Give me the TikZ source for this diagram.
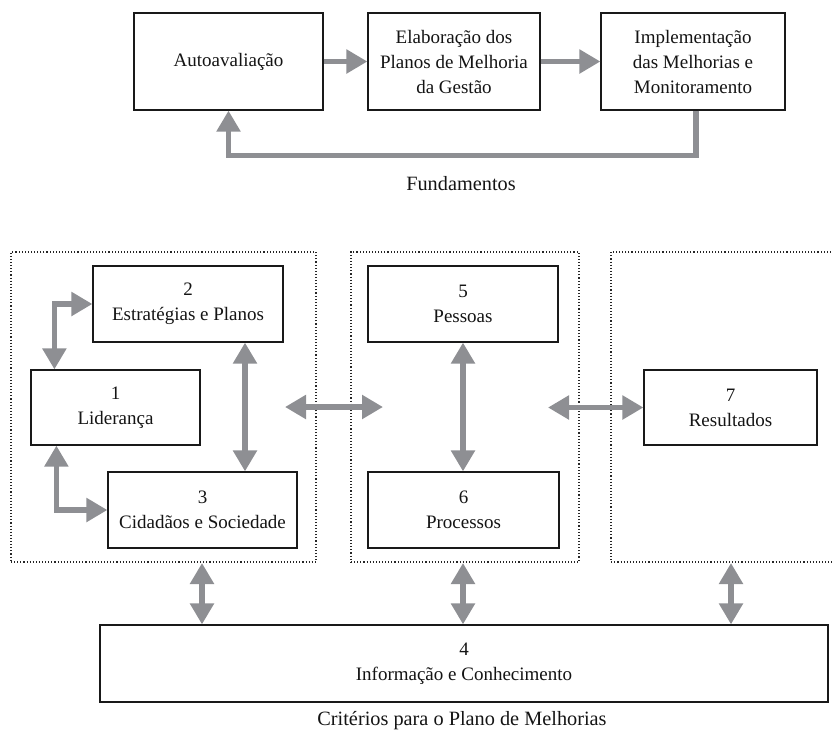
\documentclass[tikz,border=0pt]{standalone}
\usepackage{fontspec}
\setmainfont{Liberation Serif}
\usetikzlibrary{arrows.meta,calc}
\definecolor{agray}{RGB}{142,143,147}
\definecolor{txt}{RGB}{20,20,20}
\tikzset{
  box/.style={draw=black!90, line width=1.2pt, fill=white, align=center, text=txt,
    inner sep=0pt, font=\fontsize{19}{25}\selectfont},
  dotbox/.style={draw=black!85, line width=1.1pt, dash pattern=on 1.1pt off 2pt},
  garrow/.style={draw=agray, line width=5.5pt, -{Triangle[width=23pt,length=21pt]}},
  garrowb/.style={draw=agray, line width=5.5pt, {Triangle[width=23pt,length=21pt]}-{Triangle[width=23pt,length=21pt]}},
  lbl/.style={text=txt, font=\fontsize{20.3}{25}\selectfont, inner sep=0pt}
}
\begin{document}
\begin{tikzpicture}[x=1pt,y=-1pt]
\useasboundingbox (0,0) rectangle (832,734);
% top row
\node[box, minimum width=189pt, minimum height=97pt] (A1) at (228.5,61.5) {Autoavaliação};
\node[box, minimum width=172pt, minimum height=97pt] (A2) at (454,61.5) {Elaboração dos\\Planos de Melhoria\\da Gestão};
\node[box, minimum width=184pt, minimum height=97pt] (A3) at (693,61.5) {Implementação\\das Melhorias e\\Monitoramento};
\draw[garrow] (A1) -- (A2);
\draw[garrow] (A2) -- (A3);
\draw[garrow] ([xshift=3pt]A3.south) -- ++(0,45) -| (A1.south);
\node[lbl] (F) at (461,184) {Fundamentos};
% dotted groups
\node[dotbox, minimum width=305pt, minimum height=310pt, inner sep=0pt] (DA) at (163.5,407) {};
\node[dotbox, minimum width=228pt, minimum height=310pt, inner sep=0pt] (DB) at (465,407) {};
\coordinate (dc1) at (834,252);
\coordinate (dc2) at (611,252);
\coordinate (dc3) at (611,562);
\coordinate (dc4) at (834,562);
\draw[dotbox] (dc1) -- (dc2) -- (dc3) -- (dc4);
% boxes
\node[box, minimum width=190pt, minimum height=76pt] (B2) at (188,304) {2\\Estratégias e Planos};
\node[box, minimum width=169pt, minimum height=75pt] (B1) at (115.5,407.5) {1\\Liderança};
\node[box, minimum width=189pt, minimum height=76pt] (B3) at (202.5,510) {3\\Cidadãos e Sociedade};
\node[box, minimum width=190pt, minimum height=76pt] (B5) at (463,304) {5\\Pessoas};
\node[box, minimum width=191pt, minimum height=76pt] (B6) at (463.5,510) {6\\Processos};
\node[box, minimum width=173pt, minimum height=75pt] (B7) at (730.5,407.5) {7\\Resultados};
\node[box, minimum width=728pt, minimum height=77pt] (B4) at (464,663.5) {4\\Informação e Conhecimento};
% arrows inside group A
\draw[garrowb] ([xshift=24pt]B1.north west) |- (B2.west);
\draw[garrowb] ([xshift=26pt]B1.south west) |- (B3.west);
\draw[garrowb] ([xshift=57pt]B2.south) -- ([xshift=57pt]B2.south |- B3.north);
\draw[garrowb] (B5.south) -- (B5.south |- B6.north);
% horizontal arrows between groups
\coordinate (h1) at (285,407);
\coordinate (h2) at (383,407);
\coordinate (h3) at (548,407.5);
\draw[garrowb] (h1) -- (h2);
\draw[garrowb] (h3) -- (B7.west);
% vertical arrows to box 4
\coordinate (v1) at (202,563);
\coordinate (v2) at (463,563);
\coordinate (v3) at (731,563);
\draw[garrowb] (v1) -- (v1 |- B4.north);
\draw[garrowb] (v2) -- (v2 |- B4.north);
\draw[garrowb] (v3) -- (v3 |- B4.north);
\node[lbl] (C) at (462,721) {Critérios para o Plano de Melhorias};
\end{tikzpicture}
\end{document}
